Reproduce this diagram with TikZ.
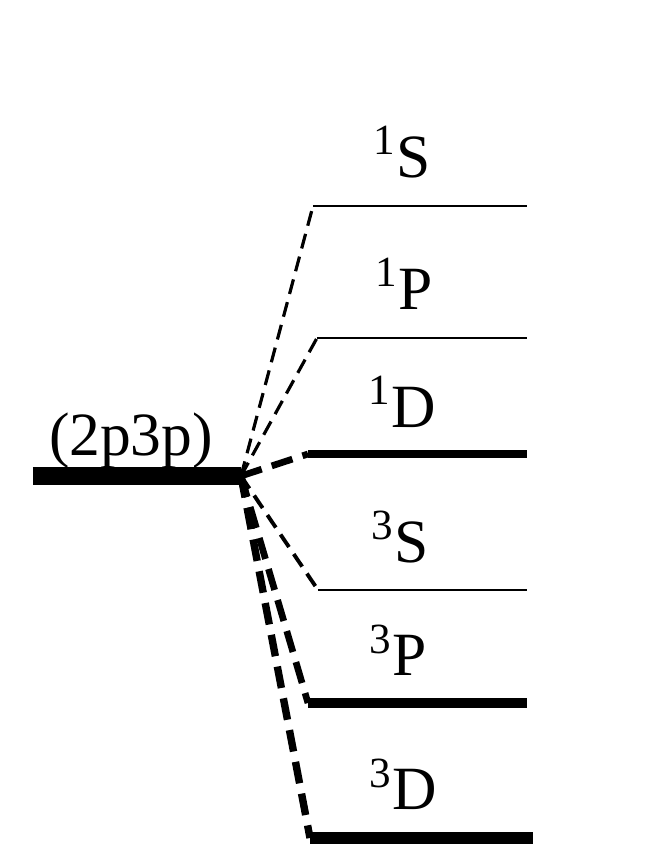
\documentclass[tikz,border=0pt]{standalone}
\usepackage{fontspec}
\setmainfont{Liberation Serif}
\usepackage{tikz}
\usetikzlibrary{positioning}

\begin{document}
\begin{tikzpicture}[line cap=butt]
  \tikzstyle{lvl}=[draw=black]
  \tikzstyle{term}=[inner sep=0pt,anchor=base,font=\fontsize{17.5}{20}\selectfont]
  \tikzstyle{thinlink}=[line width=0.9pt,dash pattern=on 4.3pt off 2.4pt]
  \tikzstyle{thicklink}=[line width=1.9pt,dash pattern=on 6.2pt off 3pt]
  \useasboundingbox (0,0) rectangle (6.62,8.59);

  % configuration level
  \coordinate (c0) at (0.33,3.83);
  \coordinate (c1) at (2.41,3.83);
  \draw[line width=5.1pt] (c0) -- (c1);
  \node[term] (conf) at (1.31,4.04) {(2p3p)};

  % term levels
  \coordinate (s1a) at (3.13,6.53); \coordinate (s1b) at (5.27,6.53);
  \coordinate (p1a) at (3.17,5.21); \coordinate (p1b) at (5.27,5.21);
  \coordinate (d1a) at (3.08,4.05); \coordinate (d1b) at (5.27,4.05);
  \coordinate (s3a) at (3.18,2.69); \coordinate (s3b) at (5.27,2.69);
  \coordinate (p3a) at (3.08,1.56); \coordinate (p3b) at (5.27,1.56);
  \coordinate (d3a) at (3.10,0.21); \coordinate (d3b) at (5.33,0.21);

  \draw[lvl,line width=0.85pt] (s1a) -- (s1b);
  \draw[lvl,line width=0.85pt] (p1a) -- (p1b);
  \draw[lvl,line width=2.3pt] (d1a) -- (d1b);
  \draw[lvl,line width=0.85pt] (s3a) -- (s3b);
  \draw[lvl,line width=2.6pt] (p3a) -- (p3b);
  \draw[lvl,line width=3.4pt] (d3a) -- (d3b);

  \node[term] (s1) at (4.02,6.82) {\textsuperscript{1}S};
  \node[term] (p1) at (4.04,5.50) {\textsuperscript{1}P};
  \node[term] (d1) at (4.02,4.32) {\textsuperscript{1}D};
  \node[term] (s3) at (4.00,2.97) {\textsuperscript{3}S};
  \node[term] (p3) at (3.98,1.83) {\textsuperscript{3}P};
  \node[term] (d3) at (4.03,0.49) {\textsuperscript{3}D};

  % splitting
  \draw[thinlink] (c1) -- (s1a);
  \draw[thinlink] (c1) -- (p1a);
  \draw[thicklink] (c1) -- (d1a);
  \draw[thinlink,line width=1.1pt] (c1) -- (s3a);
  \draw[thicklink] (c1) -- (p3a);
  \draw[thicklink,line width=2.1pt] (c1) -- (d3a);
\end{tikzpicture}
\end{document}
